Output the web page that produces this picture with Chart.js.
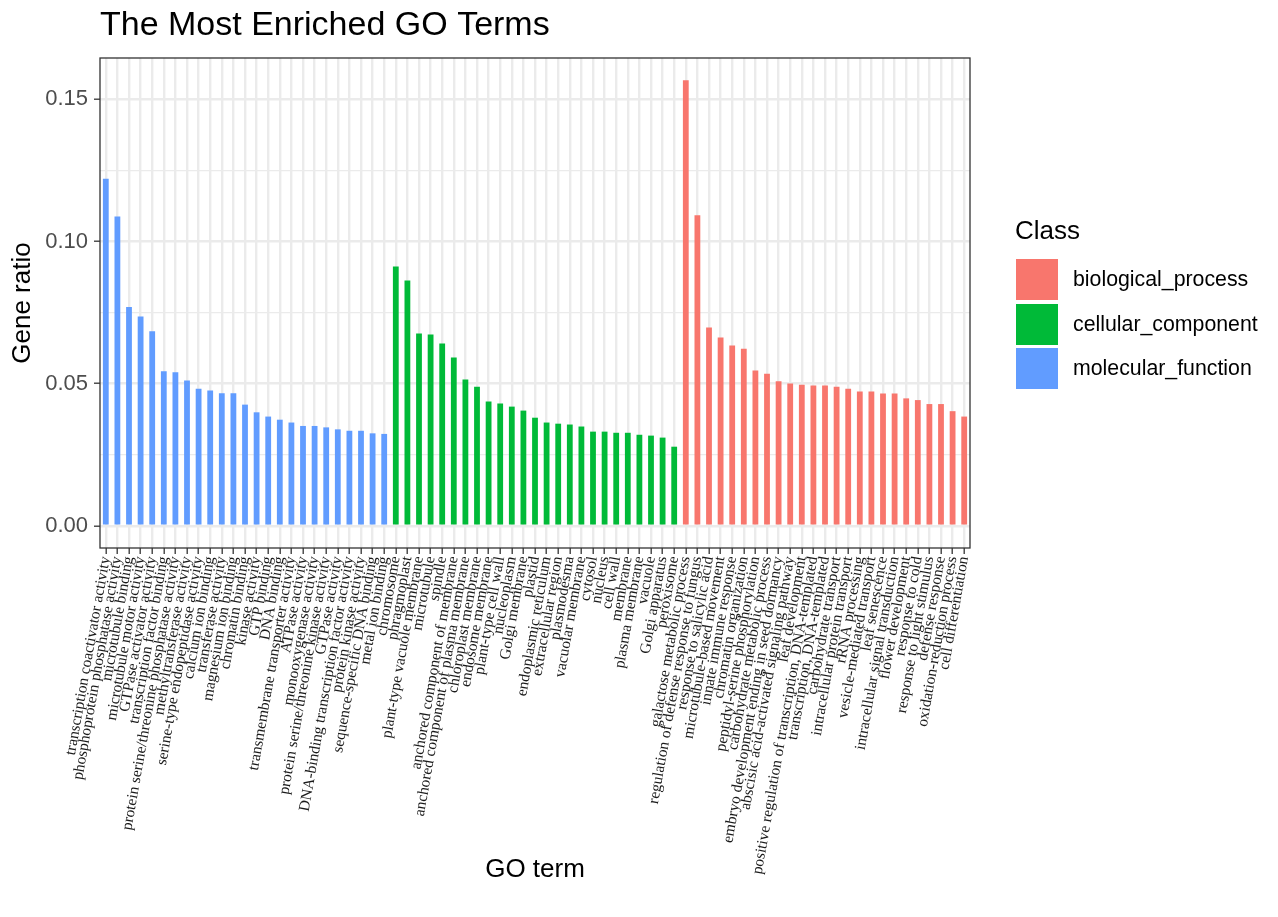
<!DOCTYPE html>
<html>
<head>
<meta charset="utf-8">
<script src="https://cdn.jsdelivr.net/npm/chart.js@4.4.0/dist/chart.umd.min.js"></script>
<style>
  html, body { margin: 0; padding: 0; background: #fff; }
  #wrap { position: relative; width: 1278px; height: 917px; }
  #legend { position: absolute; left: 1015px; top: 0; font-family: "Liberation Sans", Arial, sans-serif; color: #000; }
  #legend .title { position: absolute; left: 0; top: 215px; font-size: 26px; white-space: nowrap; }
  #legend .item { position: absolute; left: 1px; height: 41px; white-space: nowrap; }
  #legend .key { position: absolute; left: 0; top: 0; width: 42px; height: 41px; }
  #legend .txt { position: absolute; left: 57px; top: 8px; font-size: 21.3px; }
</style>
</head>
<body>
<div id="wrap">
  <canvas id="chart" width="1278" height="917"></canvas>
  <div id="legend"></div>
</div>
<script>
// GO terms and gene ratios, per class (in plotted order)
const mfTerms = [
  'transcription coactivator activity', 'phosphoprotein phosphatase activity', 'microtubule binding',
  'microtubule motor activity', 'GTPase activator activity', 'transcription factor binding',
  'protein serine/threonine phosphatase activity', 'methyltransferase activity',
  'serine-type endopeptidase activity', 'calcium ion binding', 'transferase activity',
  'magnesium ion binding', 'chromatin binding', 'kinase activity', 'GTP binding', 'DNA binding',
  'transmembrane transporter activity', 'ATPase activity', 'monooxygenase activity',
  'protein serine/threonine kinase activity', 'GTPase activity',
  'DNA-binding transcription factor activity', 'protein kinase activity',
  'sequence-specific DNA binding', 'metal ion binding'
];
const mfRatios = [0.1221, 0.1088, 0.0769, 0.0736, 0.0684, 0.0543, 0.0540, 0.0511, 0.0482, 0.0476,
  0.0466, 0.0466, 0.0426, 0.0399, 0.0384, 0.0373, 0.0363, 0.0351, 0.0351, 0.0346,
  0.0339, 0.0334, 0.0334, 0.0325, 0.0323];

const ccTerms = [
  'chromosome', 'phragmoplast', 'plant-type vacuole membrane', 'microtubule', 'spindle',
  'anchored component of membrane', 'anchored component of plasma membrane', 'chloroplast membrane',
  'endosome membrane', 'plant-type cell wall', 'nucleoplasm', 'Golgi membrane', 'plastid',
  'endoplasmic reticulum', 'extracellular region', 'plasmodesma', 'vacuolar membrane', 'cytosol',
  'nucleus', 'cell wall', 'membrane', 'plasma membrane', 'vacuole', 'Golgi apparatus', 'peroxisome'
];
const ccRatios = [0.0912, 0.0863, 0.0676, 0.0673, 0.0641, 0.0592, 0.0514, 0.0489, 0.0437, 0.0430,
  0.0419, 0.0405, 0.0380, 0.0363, 0.0359, 0.0356, 0.0349, 0.0331, 0.0331, 0.0327,
  0.0327, 0.0320, 0.0317, 0.0310, 0.0278];

const bpTerms = [
  'galactose metabolic process', 'regulation of defense response to fungus', 'response to salicylic acid',
  'microtubule-based movement', 'innate immune response', 'chromatin organization',
  'peptidyl-serine phosphorylation', 'carbohydrate metabolic process',
  'embryo development ending in seed dormancy', 'abscisic acid-activated signaling pathway',
  'leaf development', 'positive regulation of transcription, DNA-templated', 'transcription, DNA-templated',
  'carbohydrate transport', 'intracellular protein transport', 'rRNA processing',
  'vesicle-mediated transport', 'leaf senescence', 'intracellular signal transduction',
  'flower development', 'response to cold', 'response to light stimulus', 'defense response',
  'oxidation-reduction process', 'cell differentiation'
];
const bpRatios = [0.1567, 0.1092, 0.0697, 0.0662, 0.0634, 0.0623, 0.0546, 0.0535, 0.0508, 0.0500,
  0.0496, 0.0493, 0.0493, 0.0489, 0.0482, 0.0472, 0.0472, 0.0465, 0.0465, 0.0448,
  0.0442, 0.0428, 0.0428, 0.0403, 0.0384];

const classNames = ['biological_process', 'cellular_component', 'molecular_function'];
const classColors = ['#F8766D', '#00BA38', '#619CFF'];

const yMajor = [0, 0.05, 0.10, 0.15];
const yMinor = [0.025, 0.075, 0.125];

const labels = mfTerms.concat(ccTerms, bpTerms);
const values = mfRatios.concat(ccRatios, bpRatios);
const barColors = mfTerms.map(() => classColors[2])
  .concat(ccTerms.map(() => classColors[1]), bpTerms.map(() => classColors[0]));

// ggplot style expansion of the y range
const yMaxData = Math.max(...values);
const yPad = yMaxData * 0.05;

Chart.defaults.font.family = '"Liberation Sans", Arial, sans-serif';
Chart.defaults.color = '#4d4d4d';

function isMajor(v) {
  return yMajor.some(m => Math.abs(m - v) < 1e-9);
}

// panel border around the plotting area
const panelBorder = {
  id: 'panelBorder',
  afterDatasetsDraw(chart) {
    const a = chart.chartArea;
    const ctx = chart.ctx;
    ctx.save();
    ctx.strokeStyle = '#333333';
    ctx.lineWidth = 1.3;
    ctx.strokeRect(a.left, a.top, a.right - a.left, a.bottom - a.top);
    ctx.restore();
  }
};

const config = {
  type: 'bar',
  data: {
    labels: labels,
    datasets: [{
      label: 'Gene ratio',
      data: values,
      backgroundColor: barColors,
      borderWidth: 0,
      barPercentage: 0.5,
      categoryPercentage: 1.0
    }]
  },
  options: {
    responsive: false,
    animation: false,
    layout: { padding: { left: 0, right: 308, top: 0, bottom: 0 } },
    plugins: {
      legend: { display: false },
      tooltip: { enabled: false },
      title: {
        display: true,
        text: 'The Most Enriched GO Terms',
        align: 'start',
        fullSize: false,
        color: '#000',
        font: { size: 34, weight: 'normal', lineHeight: 1 },
        padding: { top: 9, bottom: 15 }
      }
    },
    scales: {
      x: {
        offset: true,
        grid: {
          offset: false,
          color: '#ebebeb',
          lineWidth: 2.4,
          tickColor: '#333333',
          tickLength: 6,
          tickWidth: 1.3
        },
        border: { display: false },
        ticks: {
          autoSkip: false,
          maxRotation: 80,
          minRotation: 80,
          padding: 1,
          color: '#1a1a1a',
          font: { family: '"Liberation Serif", "Times New Roman", serif', size: 15.5 }
        },
        title: {
          display: true,
          text: 'GO term',
          color: '#000',
          font: { size: 26, lineHeight: 1 },
          padding: { top: 0, bottom: 34 }
        },
        afterFit(scale) { scale.height = 369; }
      },
      y: {
        min: -yPad,
        max: yMaxData + yPad,
        afterBuildTicks(scale) {
          scale.ticks = yMajor.concat(yMinor).sort((a, b) => a - b).map(v => ({ value: v }));
        },
        grid: {
          color: '#ebebeb',
          lineWidth: ctx => (ctx.tick && isMajor(ctx.tick.value)) ? 2.4 : 1.2,
          tickColor: ctx => (ctx.tick && isMajor(ctx.tick.value)) ? '#333333' : 'rgba(0,0,0,0)',
          tickLength: 6,
          tickWidth: 1.3
        },
        border: { display: false },
        ticks: {
          padding: 6,
          color: '#4d4d4d',
          font: { size: 22 },
          callback: v => isMajor(v) ? v.toFixed(2) : ''
        },
        title: {
          display: true,
          text: 'Gene ratio',
          color: '#000',
          font: { size: 26, lineHeight: 1 },
          padding: { top: 10, bottom: 0 }
        },
        afterFit(scale) { scale.width = 100; }
      }
    }
  },
  plugins: [panelBorder]
};

const canvas = document.getElementById('chart');
const myChart = new Chart(canvas.getContext('2d'), config);

// legend ("Class")
const legend = document.getElementById('legend');
const t = document.createElement('div');
t.className = 'title';
t.textContent = 'Class';
legend.appendChild(t);
classNames.forEach((name, i) => {
  const item = document.createElement('div');
  item.className = 'item';
  item.style.top = (259 + i * 44.5) + 'px';
  const key = document.createElement('div');
  key.className = 'key';
  key.style.background = classColors[i];
  const txt = document.createElement('div');
  txt.className = 'txt';
  txt.textContent = name;
  item.appendChild(key);
  item.appendChild(txt);
  legend.appendChild(item);
});
</script>
</body>
</html>
